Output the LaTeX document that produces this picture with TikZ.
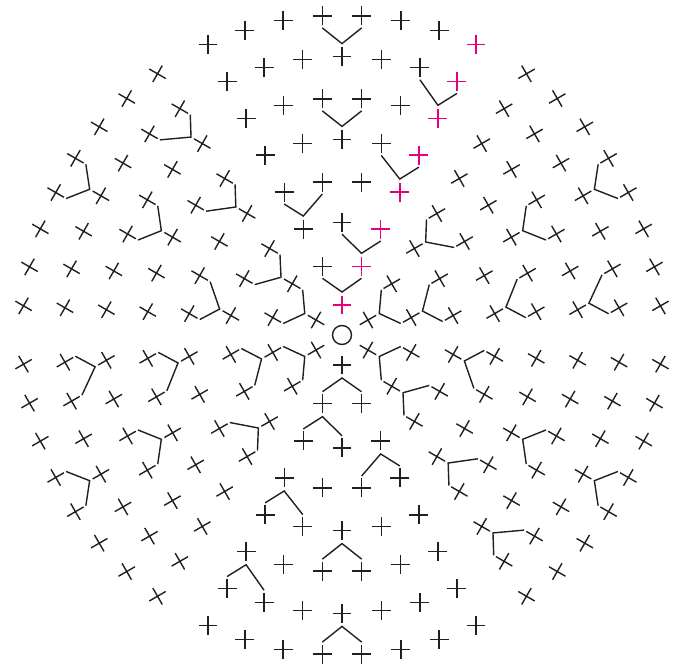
\documentclass[tikz,border=0pt]{standalone}
\usetikzlibrary{shapes.misc,calc}
\definecolor{ink}{RGB}{35,31,32}
\definecolor{mag}{RGB}{230,0,126}
\tikzset{
  stitch/.style={cross out, draw=#1, line width=1.4pt, minimum size=13.4pt, inner sep=0pt, outer sep=0pt},
  stitch/.default=ink,
  incr/.style={draw=ink, line width=1.4pt},
}
\begin{document}
\begin{tikzpicture}[x=1pt,y=1pt]
  \useasboundingbox (-342,-335) rectangle (343,335);
  \node (ring) [circle, draw=ink, line width=1.4pt, minimum size=19pt, inner sep=0pt] at (0,0) {};
  % rounds of sc, one wedge of six at a time
  \foreach \k in {1,...,8} {
    \pgfmathsetmacro\rad{30+41.4*(\k-1)}
    \pgfmathsetmacro\pitch{39.5/\rad*57.2958}
    \pgfmathtruncatemacro\last{\k-1}
    \foreach \w in {0,...,5} {
      \foreach \j in {0,...,\last} {
        \pgfmathsetmacro\ang{60*\w+30+(\j-\last/2)*\pitch}
        \pgfmathtruncatemacro\hl{and(\w==1,\j==0)}
        \ifnum\hl=1 \def\col{mag}\else\def\col{ink}\fi
        \node (s\k-\w-\j) [stitch=\col, rotate=60*\w-15] at (\ang:\rad) {};
      }
    }
  }
  % increases
  \foreach \w in {0,...,5} {
    \pgfmathsetmacro\dir{60*\w+30}
    \foreach \k/\jp in {2/0,3/0,4/2,5/0,6/2,7/0,8/3} {
      \pgfmathtruncatemacro\pk{\k-1}
      \pgfmathtruncatemacro\jq{\jp+1}
      \draw[incr] ($(s\k-\w-\jp)+(\dir+180:12)$) -- ($(s\pk-\w-\jp)+(\dir:13)$) -- ($(s\k-\w-\jq)+(\dir+180:12)$);
    }
  }
\end{tikzpicture}
\end{document}
